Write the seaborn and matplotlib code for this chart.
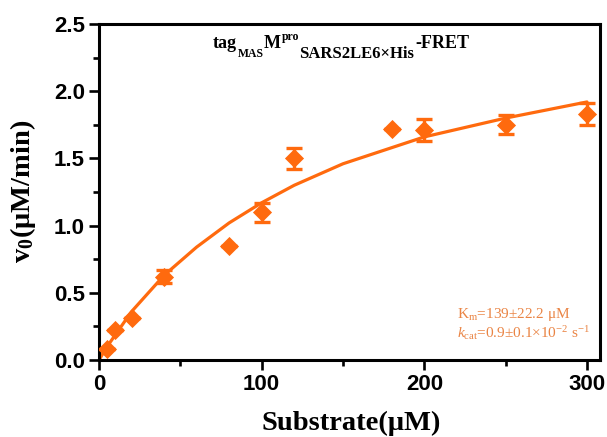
import numpy as np
import pandas as pd
import matplotlib
matplotlib.use("Agg")
import matplotlib.pyplot as plt
import seaborn as sns
from matplotlib.ticker import MultipleLocator

# Measured points
substrate = [5, 10, 20, 40, 80, 100, 120, 180, 200, 250, 300]
v0 = [0.08, 0.22, 0.31, 0.62, 0.85, 1.10, 1.50, 1.72, 1.71, 1.75, 1.83]
v0_err = [0.0, 0.0, 0.0, 0.05, 0.0, 0.07, 0.08, 0.0, 0.08, 0.07, 0.08]

# Fitted curve
fit_x = [0, 5, 20, 40, 60, 80, 100, 120, 150, 200, 250, 300]
fit_y = [0.0, 0.10, 0.36, 0.63, 0.84, 1.02, 1.17, 1.30, 1.46, 1.66, 1.80, 1.92]

xticks = [0, 100, 200, 300]
yticks = [0.0, 0.5, 1.0, 1.5, 2.0, 2.5]

# Title pieces
title_parts = ["tag", "MAS", "M", "pro", "SARS2LE6×His", "-FRET"]

orange = "#FF6A0E"
text_orange = "#EA8444"

W, H = 607, 437

sns.set_theme(style="ticks")
plt.rcParams["mathtext.fontset"] = "custom"
plt.rcParams["mathtext.rm"] = "Liberation Serif"
plt.rcParams["mathtext.it"] = "Liberation Serif:italic"
plt.rcParams["mathtext.bf"] = "Liberation Serif:bold"
plt.rcParams["font.family"] = ["Liberation Sans", "DejaVu Sans"]

fig = plt.figure(figsize=(W/100, H/100), dpi=100)
ax = fig.add_axes([99/W, 1 - 360/H, (600-99)/W, (360-24)/H])

df_pts = pd.DataFrame({"x": substrate, "y": v0, "e": v0_err})
df_fit = pd.DataFrame({"x": fit_x, "y": fit_y})

sns.lineplot(data=df_fit, x="x", y="y", ax=ax, color=orange, linewidth=2.3)
ax.errorbar(df_pts["x"], df_pts["y"], yerr=df_pts["e"], fmt="none",
            ecolor=orange, elinewidth=2.4, capsize=5.5, capthick=2.4, zorder=3)
sns.scatterplot(data=df_pts, x="x", y="y", ax=ax, marker="D", s=95,
                color=orange, edgecolor=orange, linewidth=0, zorder=4)

ax.set_xlim(0, 308)
ax.set_ylim(0, 2.5)
ax.set_xticks(xticks)
ax.set_yticks(yticks)
ax.set_xticklabels([str(t) for t in xticks])
ax.set_yticklabels([f"{t:.1f}" for t in yticks])
ax.xaxis.set_minor_locator(MultipleLocator(50))
ax.yaxis.set_minor_locator(MultipleLocator(0.25))
ax.tick_params(which="major", direction="out", length=7.5, width=1.9, color="black",
               labelsize=16, labelcolor="black", pad=2.5)
ax.tick_params(which="minor", direction="out", length=4, width=1.9, color="black")
for lab in ax.get_xticklabels() + ax.get_yticklabels():
    lab.set_fontweight("bold")
for sp in ax.spines.values():
    sp.set_linewidth(2.2)
    sp.set_color("black")

ax.set_xlabel("Substrate(μM)", fontsize=20.5, fontweight="bold",
              family="Liberation Serif", color="black")
ax.set_ylabel(r"v$_\mathbf{0}$(μM/min)", fontsize=20.5, fontweight="bold",
              family="Liberation Serif", color="black")
ax.xaxis.set_label_coords(0.503, -0.150)
ax.yaxis.set_label_coords(-0.122, 0.501)

# Title built piecewise (sub/superscripts placed one after another)
sizes = [13, 8.5, 13, 8.5, 12, 13]
ys = [48, 57, 48, 40, 58, 48]
renderer = fig.canvas.get_renderer()
xp = 213.0
for t, s, yp in zip(title_parts, sizes, ys):
    txt = fig.text(xp / W, 1 - yp / H, t, fontsize=s, fontweight="bold",
                   family="Liberation Serif", color="black", ha="left", va="baseline")
    bb = txt.get_window_extent(renderer=renderer)
    xp = bb.x1 + 0.5

ax.text(220, 0.335, r"K$_\mathrm{m}$=139±22.2 μM", ha="left", va="center",
        fontsize=11, family="Liberation Serif", color=text_orange)
ax.text(220, 0.20, r"$k_\mathrm{cat}$=0.9±0.1×10$^{-2}$ s$^{-1}$", ha="left",
        va="center", fontsize=11, family="Liberation Serif", color=text_orange)

fig.savefig("out.png", dpi=100)
